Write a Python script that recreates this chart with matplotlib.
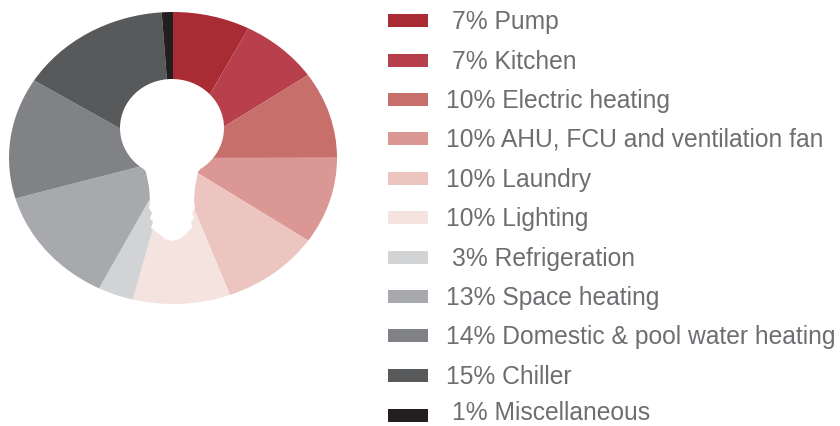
import matplotlib
matplotlib.use("Agg")
import matplotlib.pyplot as plt
from matplotlib.patches import Ellipse, Polygon, Rectangle

# legend values as printed
percents = [7, 7, 10, 10, 10, 10, 3, 13, 14, 15, 1]
categories = [
    "Pump", "Kitchen", "Electric heating", "AHU, FCU and ventilation fan",
    "Laundry", "Lighting", "Refrigeration", "Space heating",
    "Domestic & pool water heating", "Chiller", "Miscellaneous",
]
# slice sizes as actually drawn, they differ a bit from the printed numbers
drawn_shares = [7.6, 7.8, 9.6, 9.6, 9.8, 9.6, 3.5, 13.1, 13.4, 15.0, 1.1]
colors = [
    "#a92b34", "#b8404c", "#c76f6b", "#da9793", "#ecc5c0", "#f5e3df",
    "#d1d3d4", "#a7a9ac", "#808285", "#58595b", "#231f20",
]
legend_y = [20, 60, 99, 138, 178, 217, 257, 296, 335, 375, 415]

W, H = 840, 426
fig = plt.figure(figsize=(W / 100, H / 100), dpi=100)

# squashed pie, box in pixels
left, right, top, bottom = 9, 337, 12, 304
ax = fig.add_axes([left / W, 1 - bottom / H, (right - left) / W, (bottom - top) / H])
ax.pie(drawn_shares, colors=colors, startangle=90, counterclock=False, radius=1)
ax.set_aspect("auto")
ax.set_xlim(-1, 1)
ax.set_ylim(-1, 1)

# overlay in pixel coordinates for the bulb and the legend
over = fig.add_axes([0, 0, 1, 1])
over.set_xlim(0, W)
over.set_ylim(H, 0)
over.axis("off")

over.add_patch(Ellipse((172, 128), 104, 98, color="white", lw=0))
neck = [
    (130, 140), (140, 163), (146, 172), (149, 187), (150, 200), (149, 208),
    (152, 213), (150, 218), (153, 222), (151, 228), (158, 233), (165, 239),
    (172, 241), (180, 239), (187, 233), (192, 227), (191, 222), (194, 218),
    (192, 213), (195, 208), (194, 200), (195, 187), (198, 172), (208, 158),
    (218, 143), (222, 128),
]
over.add_patch(Polygon(neck, closed=True, color="white", lw=0))

for pct, name, col, y in zip(percents, categories, colors, legend_y):
    over.add_patch(Rectangle((388, y - 6.5), 40, 13, color=col, lw=0))
    x = 446 if pct >= 10 else 452
    # last row sits close to the bottom edge, keep it inside the figure
    over.text(x, min(y + 2, 413), f"{pct}% {name}", color="#6d6e71", fontsize=17.75,
              family="Liberation Sans", va="center", ha="left")

fig.savefig("out.png", dpi=100)
